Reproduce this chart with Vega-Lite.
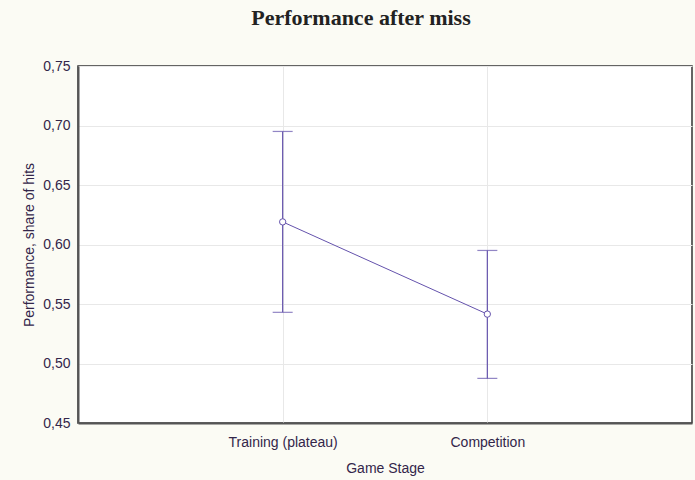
{
  "$schema": "https://vega.github.io/schema/vega-lite/v6.json",
  "width": 614,
  "height": 357,
  "autosize": {"type": "none"},
  "padding": {"left": 78, "top": 66, "right": 3, "bottom": 57},
  "background": "#fbfbf4",
  "title": {
    "text": "Performance after miss",
    "font": "Liberation Serif",
    "fontSize": 22,
    "fontWeight": "bold",
    "color": "#222222",
    "baseline": "alphabetic",
    "offset": 12,
    "dx": -24
  },
  "data": {
    "values": [
      {"stage": "Training (plateau)", "mean": 0.619, "lo": 0.543, "hi": 0.695},
      {"stage": "Competition", "mean": 0.5415, "lo": 0.4875, "hi": 0.595}
    ]
  },
  "encoding": {
    "x": {
      "field": "stage",
      "type": "nominal",
      "sort": null,
      "scale": {"type": "point", "padding": 1},
      "axis": {
        "title": "Game Stage",
        "labelAngle": 0,
        "grid": true,
        "gridColor": "#e8e8e8",
        "domainColor": "#555555",
        "domainWidth": 2,
        "tickSize": 0,
        "labelPadding": 12,
        "titlePadding": 12
      }
    }
  },
  "layer": [
    {
      "mark": {"type": "rule", "color": "#6452ac", "strokeWidth": 1.2},
      "encoding": {
        "y": {"field": "lo", "type": "quantitative"},
        "y2": {"field": "hi"}
      }
    },
    {
      "mark": {"type": "tick", "color": "#6452ac", "size": 20, "thickness": 1.2},
      "encoding": {"y": {"field": "lo", "type": "quantitative"}}
    },
    {
      "mark": {"type": "tick", "color": "#6452ac", "size": 20, "thickness": 1.2},
      "encoding": {"y": {"field": "hi", "type": "quantitative"}}
    },
    {
      "mark": {"type": "line", "color": "#6452ac", "strokeWidth": 1},
      "encoding": {
        "y": {
          "field": "mean",
          "type": "quantitative",
          "scale": {"domain": [0.45, 0.75], "nice": false, "zero": false},
          "axis": {
            "title": "Performance, share of hits",
            "values": [0.45, 0.5, 0.55, 0.6, 0.65, 0.7, 0.75],
            "format": ".2f",
            "grid": true,
            "gridColor": "#e8e8e8",
            "domainColor": "#555555",
            "domainWidth": 2,
            "tickSize": 0,
            "labelPadding": 8,
            "titlePadding": 6
          }
        }
      }
    },
    {
      "mark": {"type": "point", "shape": "circle", "filled": true, "fill": "white", "stroke": "#6452ac", "strokeWidth": 1, "size": 40, "opacity": 1},
      "encoding": {"y": {"field": "mean", "type": "quantitative"}}
    }
  ],
  "config": {
    "locale": {
      "number": {"decimal": ",", "thousands": ".", "grouping": [3], "currency": ["", " €"]}
    },
    "view": {"fill": "white", "stroke": "#333333", "strokeWidth": 1.5},
    "axis": {
      "labelFont": "Liberation Sans",
      "labelFontSize": 14,
      "labelColor": "#33264a",
      "titleFont": "Liberation Sans",
      "titleFontSize": 14,
      "titleFontWeight": "normal",
      "titleColor": "#33264a"
    }
  }
}
